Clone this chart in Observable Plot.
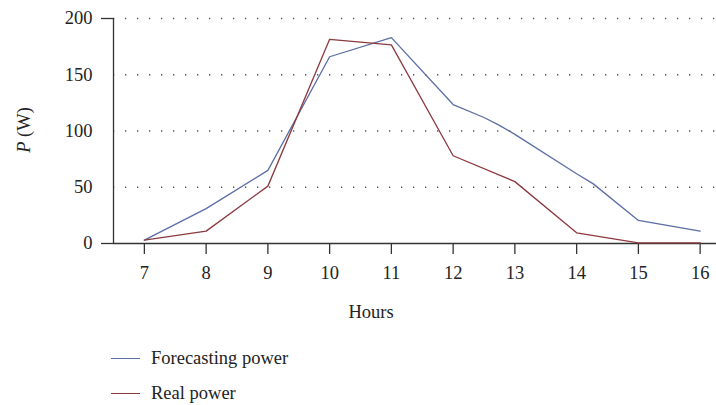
<!DOCTYPE html>
<html>
<head>
<meta charset="utf-8">
<script src="https://cdn.jsdelivr.net/npm/d3@7"></script>
<script src="https://cdn.jsdelivr.net/npm/@observablehq/plot@0.6"></script>
<style>
  html, body { margin: 0; padding: 0; background: #fff; }
  #wrap { position: relative; width: 716px; height: 405px; font-family: "Liberation Serif", "Times New Roman", serif; color: #222; }
  #ylabel { position: absolute; left: 24px; top: 130px; transform: translate(-50%, -50%) rotate(-90deg); font-size: 18.5px; white-space: nowrap; }
  .leg { position: absolute; left: 111px; height: 20px; display: flex; align-items: center; font-size: 18.5px; white-space: nowrap; }
  .leg span.sw { display: inline-block; width: 29px; height: 0; border-top: 1.3px solid; margin-right: 11px; }
</style>
</head>
<body>
<div id="wrap">
  <div id="chart"></div>
  <div id="ylabel"><i>P</i> (W)</div>
  <div class="leg" style="top:348px"><span class="sw" style="border-color:#5b6ea6"></span>Forecasting power</div>
  <div class="leg" style="top:383px"><span class="sw" style="border-color:#8d3a3f"></span>Real power</div>
</div>
<script>
const forecastHours = [7, 8, 9, 10, 11, 12, 12.5, 12.75, 13, 14, 14.27, 15, 16];
const forecastPower = [3, 31, 65, 166, 183, 123.5, 112, 105, 97, 62, 53, 20.5, 11];
const realHours = [7, 8, 9, 10, 11, 12, 13, 14, 15, 16];
const realPower = [3, 11, 51, 181.5, 176.5, 78, 55, 9.5, 0.5, 0.5];
const xTicks = [7, 8, 9, 10, 11, 12, 13, 14, 15, 16];
const yTicks = [0, 50, 100, 150, 200];
const xDomain = [6.5, 16.265];
const yDomain = [0, 200];

const forecast = forecastHours.map((h, i) => ({hour: h, power: forecastPower[i]}));
const real = realHours.map((h, i) => ({hour: h, power: realPower[i]}));

const chart = Plot.plot({
  width: 716,
  height: 340,
  marginTop: 18,
  marginBottom: 97,
  marginLeft: 113,
  marginRight: 0,
  style: {fontFamily: '"Liberation Serif", "Times New Roman", serif', fontSize: "18.5px", color: "#222", background: "#fff"},
  x: {domain: xDomain},
  y: {domain: yDomain},
  marks: [
    Plot.gridY(yTicks.filter(d => d > 0), {stroke: "#555", strokeOpacity: 1, strokeWidth: 1.3, strokeDasharray: "1.3,10.7"}),
    Plot.ruleX([xDomain[0]], {y1: yDomain[0], y2: yDomain[1], stroke: "#333", strokeWidth: 1.3}),
    Plot.ruleY([0], {stroke: "#333", strokeWidth: 1.3}),
    Plot.axisY(yTicks, {tickSize: 0, tickPadding: 21, fontSize: 18.5, fill: "#222", label: null}),
    Plot.axisY([0, 200], {tickSize: 12, text: null, stroke: "#333", strokeWidth: 1.3, label: null}),
    Plot.axisX(xTicks, {tickSize: 11, tickPadding: 11, fontSize: 18.5, fill: "#222", stroke: "#333", strokeWidth: 1.3, label: null}),
    Plot.text(["Hours"], {frameAnchor: "bottom", dx: -44, dy: 74, fontSize: 18.5, fill: "#222"}),
    Plot.line(forecast, {x: "hour", y: "power", stroke: "#5b6ea6", strokeWidth: 1.3}),
    Plot.line(real, {x: "hour", y: "power", stroke: "#8d3a3f", strokeWidth: 1.3})
  ]
});
document.getElementById("chart").appendChild(chart);
</script>
</body>
</html>
